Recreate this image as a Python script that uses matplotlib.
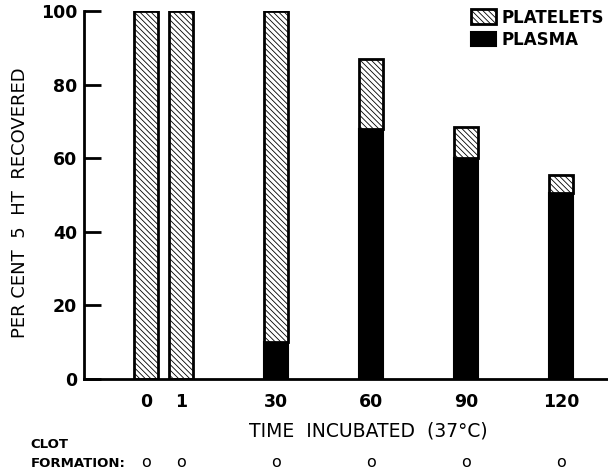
import matplotlib.pyplot as plt
import matplotlib as mpl

time_labels = ["0", "1", "30", "60", "90", "120"]
# bar positions along the axis (the 0 and 1 minute bars sit close together)
positions = [0, 0.37, 1.37, 2.37, 3.37, 4.37]
plasma = [0, 0, 10, 68, 60, 50.5]
platelets = [100, 100, 90, 19, 8.5, 5]
clot = ["o", "o", "o", "o", "o", "o"]

mpl.rcParams['hatch.linewidth'] = 0.6
mpl.rcParams['hatch.color'] = '#333333'
mpl.rcParams['font.weight'] = 'bold'

fig = plt.figure(figsize=(6.08, 4.76), dpi=100)
ax = fig.add_axes([0.138, 0.2038, 0.862, 0.773])

w = 0.25
ax.bar(positions, plasma, width=w, color='black', edgecolor='black', linewidth=1.5, label='PLASMA')
ax.bar(positions, platelets, width=w, bottom=plasma, color='white', edgecolor='black',
       hatch='\\\\\\\\\\\\', linewidth=2, label='PLATELETS')

ax.set_xlim(-0.653, 4.863)
ax.set_ylim(0, 100)
ax.set_yticks([0, 20, 40, 60, 80, 100])
ax.set_yticklabels(["0", "20", "40", "60", "80", "100"], fontsize=12.5)
ax.set_xticks(positions)
ax.set_xticklabels(time_labels, fontsize=12.5)
ax.tick_params(axis='y', direction='in', length=12, width=2, pad=5)
ax.tick_params(axis='x', length=0, pad=10)

ax.spines['top'].set_visible(False)
ax.spines['right'].set_visible(False)
ax.spines['left'].set_linewidth(2)
ax.spines['bottom'].set_linewidth(2)

ax.set_ylabel("PER CENT  5  HT  RECOVERED", fontsize=13, fontweight='normal')
ax.yaxis.set_label_coords(-0.105, 0.48)
ax.set_xlabel("TIME  INCUBATED  (37°C)", fontsize=13.5, fontweight='normal')
ax.xaxis.set_label_coords(0.542, -0.115)

h, l = ax.get_legend_handles_labels()
ax.legend(h[::-1], l[::-1], loc='upper right', frameon=False, fontsize=12,
          handlelength=1.5, handleheight=1.0, handletextpad=0.3, labelspacing=0.25,
          borderaxespad=0.0, bbox_to_anchor=(1.005, 1.025))

fig.text(0.05, 0.012, "CLOT\nFORMATION:", fontsize=9.5, ha='left', va='bottom', linespacing=1.6)
for p, c in zip(positions, clot):
    xf = ax.transData.transform((p, 0))[0] / fig.bbox.width
    fig.text(xf, 0.012, c, fontsize=11.5, fontweight='normal', ha='center', va='bottom')

fig.savefig("out.png", dpi=100)
